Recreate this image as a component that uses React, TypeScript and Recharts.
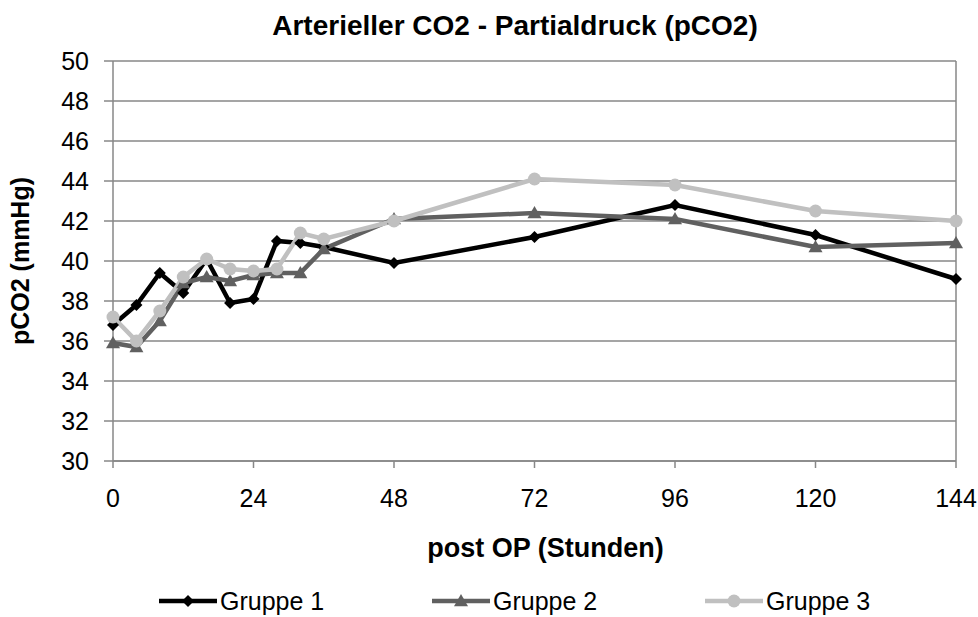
import { CartesianGrid, Label, Legend, Line, LineChart, ReferenceLine, XAxis, YAxis } from "recharts";

const hours = [0, 4, 8, 12, 16, 20, 24, 28, 32, 36, 48, 72, 96, 120, 144];
const gruppe1 = [36.8, 37.8, 39.4, 38.4, 40.1, 37.9, 38.1, 41.0, 40.9, 40.7, 39.9, 41.2, 42.8, 41.3, 39.1];
const gruppe2 = [35.9, 35.7, 37.0, 38.9, 39.2, 39.0, 39.3, 39.4, 39.4, 40.6, 42.1, 42.4, 42.1, 40.7, 40.9];
const gruppe3 = [37.2, 36.0, 37.5, 39.2, 40.1, 39.6, 39.5, 39.6, 41.4, 41.1, 42.0, 44.1, 43.8, 42.5, 42.0];
const xTicks = [0, 24, 48, 72, 96, 120, 144];
const yTicks = [30, 32, 34, 36, 38, 40, 42, 44, 46, 48, 50];

const data = hours.map((h, i) => ({ h, g1: gruppe1[i], g2: gruppe2[i], g3: gruppe3[i] }));

const FONT = "'Liberation Sans', Arial, sans-serif";
const GRID = "#878787";
const C1 = "#000000";
const C2 = "#606060";
const C3 = "#c0c0c0";

type MarkProps = { cx?: number; cy?: number; fill: string };

function Diamond({ cx, cy, fill }: MarkProps) {
  if (cx == null || cy == null) return null;
  const s = 6;
  return <path d={`M${cx},${cy - s}L${cx + s},${cy}L${cx},${cy + s}L${cx - s},${cy}Z`} fill={fill} />;
}

function Triangle({ cx, cy, fill }: MarkProps) {
  if (cx == null || cy == null) return null;
  const s = 7;
  return <path d={`M${cx},${cy - s}L${cx + s},${cy + s * 0.75}L${cx - s},${cy + s * 0.75}Z`} fill={fill} />;
}

function Circle({ cx, cy, fill }: MarkProps) {
  if (cx == null || cy == null) return null;
  return <circle cx={cx} cy={cy} r={6.5} fill={fill} />;
}

const series = [
  { key: "g1", name: "Gruppe 1", color: C1, Mark: Diamond },
  { key: "g2", name: "Gruppe 2", color: C2, Mark: Triangle },
  { key: "g3", name: "Gruppe 3", color: C3, Mark: Circle },
];

function LegendContent() {
  return (
    <div style={{ display: "flex", paddingLeft: 159, height: 32, alignItems: "center", fontFamily: FONT, fontSize: 25 }}>
      {series.map(({ key, name, color, Mark }) => (
        <div key={key} style={{ display: "flex", alignItems: "center", width: 277 }}>
          <svg width={58} height={20} style={{ marginRight: 3 }}>
            <line x1={0} y1={10} x2={58} y2={10} stroke={color} strokeWidth={4.5} />
            <Mark cx={29} cy={10} fill={color} />
          </svg>
          <span style={{ color: "#000" }}>{name}</span>
        </div>
      ))}
    </div>
  );
}

export default function App() {
  return (
    <div style={{ position: "absolute", left: 0, top: 0, width: 978, height: 617, background: "#fff", fontFamily: FONT }}>
      <div
        style={{
          position: "absolute",
          top: 10,
          left: 0,
          width: 1030,
          textAlign: "center",
          fontWeight: "bold",
          fontSize: 28,
          lineHeight: "32px",
          color: "#000",
        }}
      >
        Arterieller CO2 - Partialdruck (pCO2)
      </div>
      <LineChart
        width={978}
        height={617}
        data={data}
        margin={{ top: 61, right: 22, bottom: 0, left: 0 }}
      >
        <CartesianGrid vertical={false} stroke={GRID} strokeWidth={1.5} />
        <ReferenceLine x={144} stroke={GRID} strokeWidth={1.5} />
        <XAxis
          dataKey="h"
          type="number"
          domain={[0, 144]}
          ticks={xTicks}
          height={124}
          tickSize={7}
          tickMargin={21}
          axisLine={{ stroke: GRID, strokeWidth: 1.5 }}
          tickLine={{ stroke: GRID, strokeWidth: 1.5 }}
          tick={{ fill: "#000", fontSize: 25, fontFamily: FONT }}
        >
          <Label
            value="post OP (Stunden)"
            position="insideBottom"
            offset={28}
            dx={11}
            style={{ fill: "#000", fontSize: 27, fontWeight: "bold", fontFamily: FONT }}
          />
        </XAxis>
        <YAxis
          type="number"
          domain={[30, 50]}
          ticks={yTicks}
          width={113}
          tickSize={9}
          tickMargin={15}
          axisLine={{ stroke: GRID, strokeWidth: 1.5 }}
          tickLine={{ stroke: GRID, strokeWidth: 1.5 }}
          tick={{ fill: "#000", fontSize: 25, fontFamily: FONT }}
        >
          <Label
            value="pCO2 (mmHg)"
            angle={-90}
            position="center"
            dx={-36}
            style={{ fill: "#000", fontSize: 25, fontWeight: "bold", fontFamily: FONT, textAnchor: "middle" }}
          />
        </YAxis>
        <Legend verticalAlign="bottom" content={<LegendContent />} wrapperStyle={{ left: 0, width: 978 }} />
        {series.map(({ key, name, color, Mark }) => (
          <Line
            key={key}
            dataKey={key}
            name={name}
            stroke={color}
            strokeWidth={4.5}
            isAnimationActive={false}
            activeDot={false}
            dot={(p: any) => <Mark key={`${key}-${p.index}`} cx={p.cx} cy={p.cy} fill={color} />}
          />
        ))}
      </LineChart>
    </div>
  );
}
